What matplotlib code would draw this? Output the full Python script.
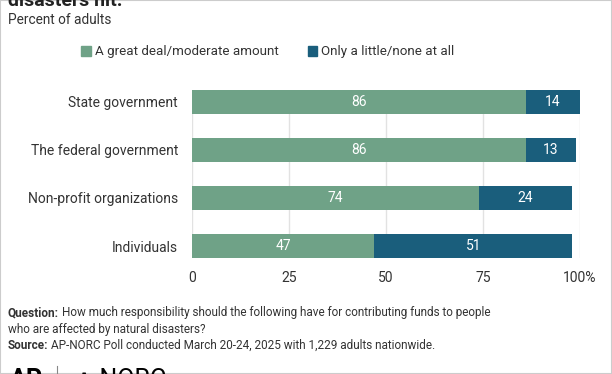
import matplotlib.pyplot as plt
import matplotlib.patches as mpatches
import numpy as np

plt.rcParams['font.family'] = ['Roboto', 'DejaVu Sans']

# Data
categorias = ["State government", "The federal government", "Non-profit organizations", "Individuals"]
muito = [86, 86, 74, 47]
pouco = [14, 13, 24, 51]
series = ["A great deal/moderate amount", "Only a little/none at all"]
ticks = [0, 25, 50, 75, 100]
tick_labels = ["0", "25", "50", "75", "100%"]

verde = "#6fa287"
azul = "#1a5e7c"
cinza_txt = "#333333"

fig = plt.figure(figsize=(6.12, 3.74), dpi=100)
ax = fig.add_axes([192 / 612, 1 - 258 / 374, 388 / 612, 168 / 374])

y = np.arange(len(categorias))
ax.barh(y, muito, height=0.5, color=verde, zorder=3)
ax.barh(y, pouco, left=muito, height=0.5, color=azul, zorder=3)

for i in range(len(categorias)):
    ax.text(muito[i] / 2, y[i], str(muito[i]), ha="center", va="center",
            color="white", fontsize=10, zorder=4)
    ax.text(muito[i] + pouco[i] / 2, y[i], str(pouco[i]), ha="center", va="center",
            color="white", fontsize=10, zorder=4)

ax.set_xlim(0, 100)
ax.set_ylim(3.25, -0.25)
ax.set_xticks(ticks)
ax.set_xticklabels(tick_labels, fontsize=10, color=cinza_txt)
ax.set_yticks(y)
ax.set_yticklabels(categorias, fontsize=10, color=cinza_txt)
ax.tick_params(axis="x", length=0, pad=9)
ax.tick_params(axis="y", length=0, pad=10)
ax.grid(axis="x", color="#e2e2e2", linewidth=1, zorder=0)
for s in ax.spines.values():
    s.set_visible(False)

# Title (cut off at the top) and subtitle
fig.text(8 / 612, 1 - 6 / 374, "disasters hit.", fontsize=14, fontweight="bold",
         color="#222222", ha="left", va="baseline")
fig.text(8 / 612, 1 - 20 / 374, "Percent of adults", fontsize=9.8, color=cinza_txt,
         ha="left", va="center")

# Legend
handles = [mpatches.Patch(color=verde), mpatches.Patch(color=azul)]
fig.legend(handles, series, loc="center", bbox_to_anchor=(268 / 612, 1 - 52 / 374), ncol=2,
           frameon=False, fontsize=9.6, handlelength=0.7, handleheight=0.7,
           handletextpad=0.3, columnspacing=2.2, labelcolor=cinza_txt)

# Footer: bold label followed by regular text
def rotulo(y_px, negrito, resto):
    t = fig.text(8 / 612, 1 - y_px / 374, negrito, fontsize=8.5, fontweight="bold",
                 color=cinza_txt, ha="left", va="baseline")
    r = fig.canvas.get_renderer()
    w = t.get_window_extent(r).width
    fig.text((8 + w + 2.5) / 612, 1 - y_px / 374, resto, fontsize=8.5, color=cinza_txt,
             ha="left", va="baseline")

rotulo(316, "Question:", "How much responsibility should the following have for contributing funds to people")
fig.text(8 / 612, 1 - 333 / 374, "who are affected by natural disasters?", fontsize=8.5,
         color=cinza_txt, ha="left", va="baseline")
rotulo(349, "Source:", "AP-NORC Poll conducted March 20-24, 2025 with 1,229 adults nationwide.")

# Logos (cut off at the bottom)
fig.text(10 / 612, 1 - 380 / 374, "AP", fontsize=18, fontweight="bold", color="black",
         ha="left", va="center")
fig.add_artist(plt.Line2D([57 / 612, 57 / 612], [0, 8 / 374], color="#888888", lw=0.8))
fig.text(75 / 612, 1 - 380 / 374, "\u2227 NORC", fontsize=18, color="black",
         ha="left", va="center")

# Frame
fig.add_artist(mpatches.Rectangle((0, 0), 1, 1, transform=fig.transFigure, fill=False,
                                  edgecolor="#cccccc", linewidth=1.5))

fig.savefig("out.png", dpi=100)
